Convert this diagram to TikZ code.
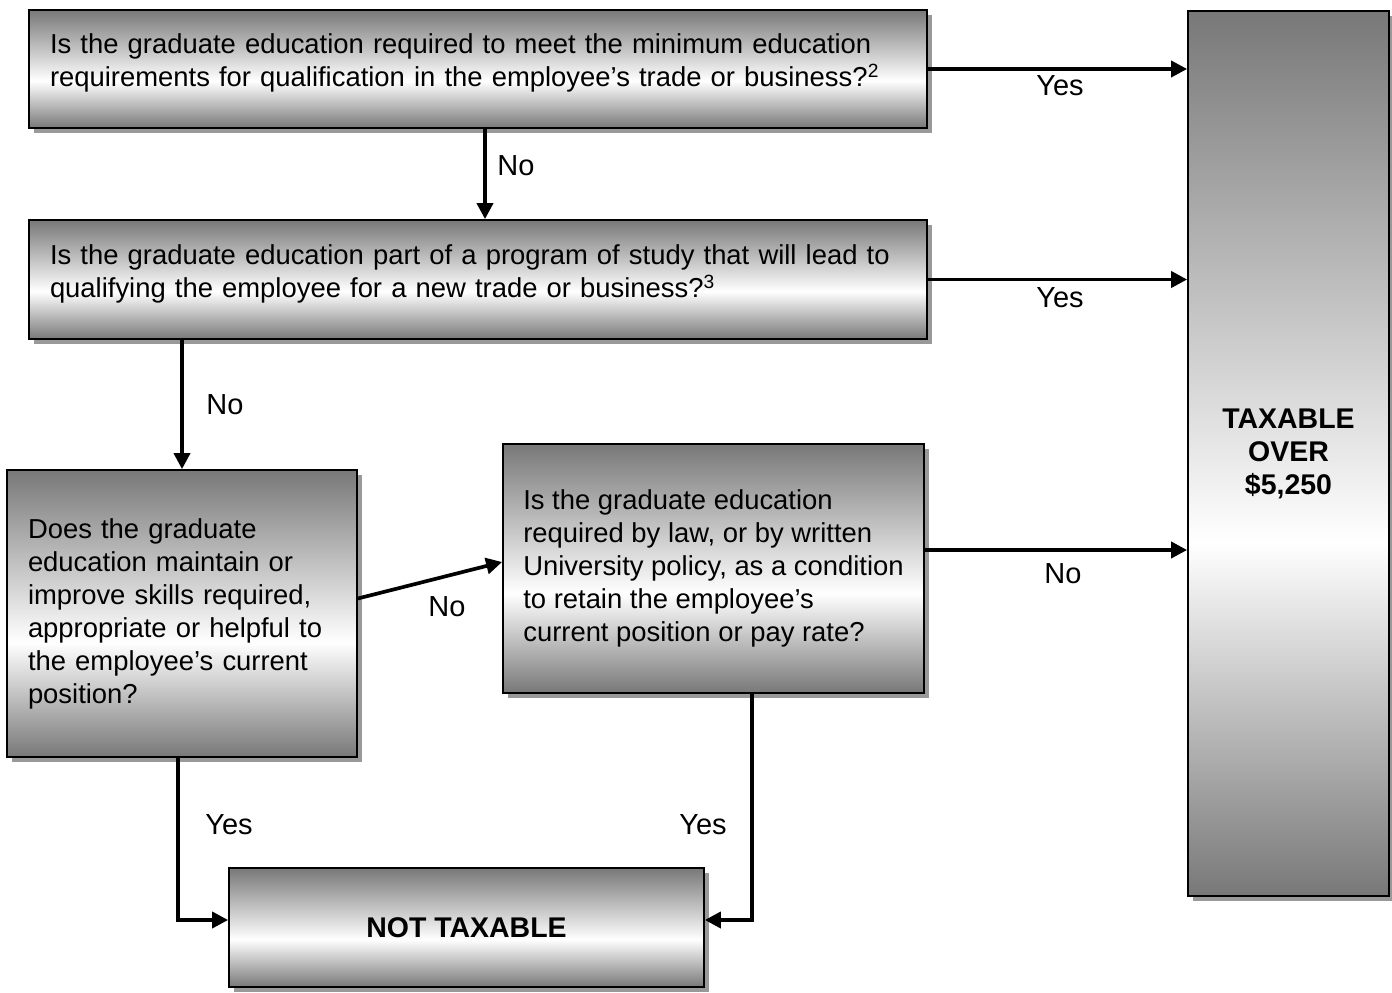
\documentclass[tikz,border=0pt]{standalone}
\usepackage{fontspec}
\setmainfont{Liberation Sans}
\usepackage{tikz}
\usetikzlibrary{positioning, arrows.meta, shadows}

\pgfdeclareverticalshading{boxshade}{100bp}{color(0bp)=(black!53); color(25bp)=(black!53); color(45bp)=(white); color(75bp)=(black!53); color(100bp)=(black!53)}

\tikzset{
    qbox/.style={rectangle, draw=black, line width=1pt, shading=boxshade, inner xsep=0.42cm, align=left,
        drop shadow={shadow xshift=1mm, shadow yshift=-1mm, fill=black!40, opacity=1}},
    endbox/.style={qbox, align=center, font=\fontsize{16.2}{18.8}\selectfont\bfseries},
    arr/.style={line width=2.1pt, -{Triangle[length=3.2mm, width=3.2mm]}},
    lbl/.style={inner sep=0pt, font=\fontsize{16.5}{19}\selectfont}
}

\begin{document}
\begin{tikzpicture}[font=\fontsize{15.6}{18.8}\selectfont]
            \useasboundingbox (0, 0) rectangle (27.84, -19.84);

            \node[qbox, minimum width=17.96cm, minimum height=2.36cm, text width=17.12cm] (q1) at (9.56, -1.38)
                {Is the graduate education required to meet the minimum education\\requirements for qualification in the employee’s trade or business?\textsuperscript{2}\\[-9pt]\mbox{}};
            \node[qbox, minimum width=17.96cm, minimum height=2.38cm, text width=17.12cm] (q2) at (9.56, -5.59)
                {Is the graduate education part of a program of study that will lead to\\qualifying the employee for a new trade or business?\textsuperscript{3}\\[-9pt]\mbox{}};
            \node[qbox, minimum width=7cm, minimum height=5.74cm, text width=6.16cm] (q3) at (3.64, -12.27)
                {Does the graduate\\education maintain or\\improve skills required,\\appropriate or helpful to\\the employee’s current\\position?};
            \node[qbox, minimum width=8.42cm, minimum height=4.98cm, inner xsep=0.3cm] (q4) at (14.27, -11.37)
                {Is the graduate education\\required by law, or by written\\University policy, as a condition\\to retain the employee’s\\current position or pay rate?};
            \node[endbox, minimum width=9.5cm, minimum height=2.38cm] (nt) at (9.33, -18.55) {NOT TAXABLE};
            \node[endbox, minimum width=4.02cm, minimum height=17.7cm] (tax) at (25.77, -9.07) {TAXABLE\\OVER\\\$5,250};

            \draw[arr] (q1) -- (q1 -| tax.west);
            \draw[arr] ([xshift=1.4mm]q1.south) -- ([xshift=1.4mm]q2.north);
            \draw[arr] (q2) -- (q2 -| tax.west);
            \draw[arr] (q3.north |- q2.south) -- (q3.north);
            \draw[arr] ([yshift=3mm]q3.east) -- ([yshift=1.3mm]q4.west);
            \draw[arr] ([yshift=3.7mm]q4.east) -- ([yshift=3.7mm]q4.east -| tax.west);
            \draw[arr] ([xshift=-0.8mm]q3.south) |- ([yshift=1.5mm]nt.west);
            \draw[arr] ([xshift=7.7mm]q4.south) |- ([yshift=1.5mm]nt.east);

            \node[lbl] (yes1) at (21.2, -1.72) {Yes};
            \node[lbl] (no1) at (10.32, -3.32) {No};
            \node[lbl] (yes2) at (21.2, -5.96) {Yes};
            \node[lbl] (no2) at (4.5, -8.1) {No};
            \node[lbl] (no3) at (8.94, -12.14) {No};
            \node[lbl] (no4) at (21.26, -11.48) {No};
            \node[lbl] (yes3) at (4.58, -16.5) {Yes};
            \node[lbl] (yes4) at (14.06, -16.5) {Yes};
        \end{tikzpicture}
\end{document}
